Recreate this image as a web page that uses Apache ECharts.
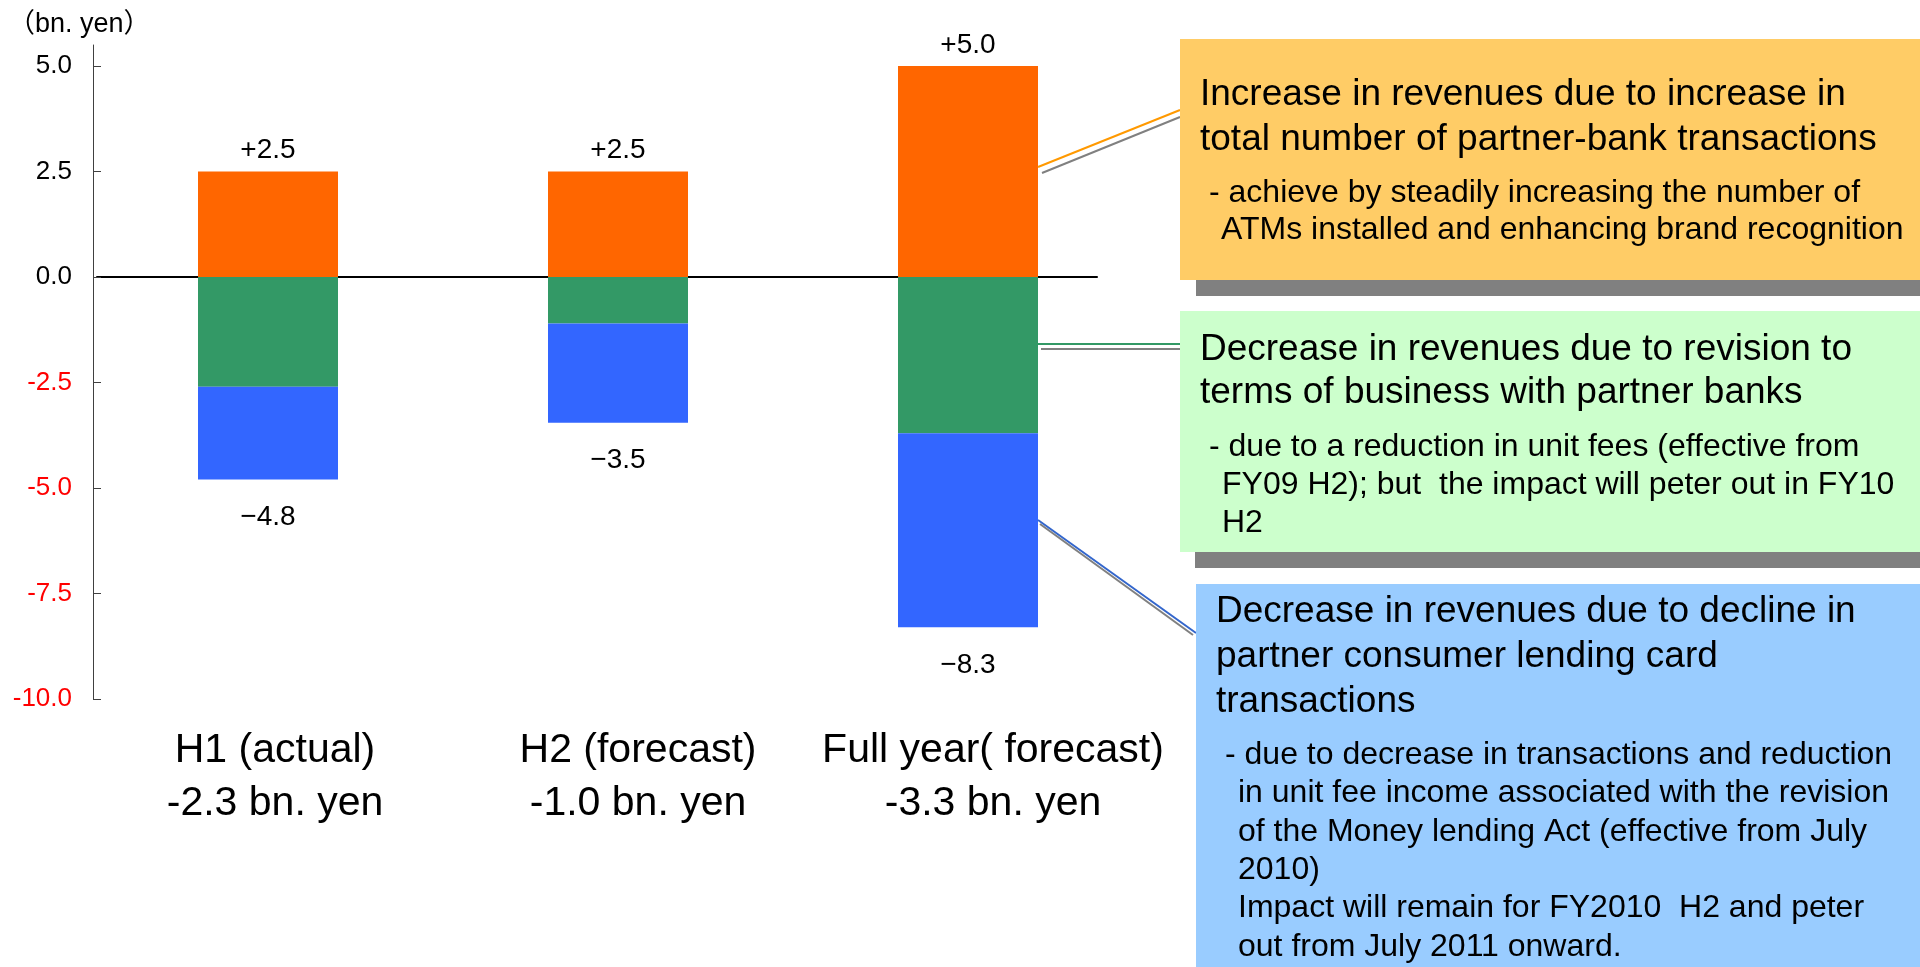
<!DOCTYPE html>
<html>
<head>
<meta charset="utf-8">
<script src="https://cdn.jsdelivr.net/npm/echarts@6/dist/echarts.min.js"></script>
<style>
  html, body { margin: 0; padding: 0; background: #fff; }
  #charts { width: 1920px; height: 967px; }
</style>
</head>
<body>
<div id="charts"></div>
<script>
// data
var categories = ['H1 (actual)', 'H2 (forecast)', 'Full year( forecast)'];
var netChange = ['-2.3', '-1.0', '-3.3'];
var partnerBank = [2.5, 2.5, 5.0];       // orange, increase
var termsRevision = [-2.6, -1.1, -3.7];  // green
var consumerLending = [-2.2, -2.35, -4.6]; // blue
var negTotals = [-4.8, -3.5, -8.3];
var yTicks = [-10, -7.5, -5, -2.5, 0, 2.5, 5];

// annotation text (boxes on the right)
var box1Head = ['Increase in revenues due to increase in', 'total number of partner-bank transactions'];
var box1Sub = ['- achieve by steadily increasing the number of', 'ATMs installed and enhancing brand recognition'];
var box2Head = ['Decrease in revenues due to revision to', 'terms of business with partner banks'];
var box2Sub = ['- due to a reduction in unit fees (effective from', 'FY09 H2); but  the impact will peter out in FY10', 'H2'];
var box3Head = ['Decrease in revenues due to decline in', 'partner consumer lending card', 'transactions'];
var box3Sub = ['- due to decrease in transactions and reduction', 'in unit fee income associated with the revision',
  'of the Money lending Act (effective from July', '2010)', 'Impact will remain for FY2010  H2 and peter', 'out from July 2011 onward.'];

var FONT = 'Arial, "Liberation Sans", "Noto Sans CJK JP", sans-serif';

function textLines(lines, x0, x1, y0, lh, size) {
  // first line at x0, following lines at x1
  return lines.map(function (t, i) {
    return {
      type: 'text', z: 20,
      style: {
        text: t, x: i === 0 ? x0 : x1, y: y0 + i * lh,
        fill: '#000', fontSize: size, fontFamily: FONT, verticalAlign: 'middle'
      }
    };
  });
}

function line(x1, y1, x2, y2, color) {
  return { type: 'line', z: 5, shape: { x1: x1, y1: y1, x2: x2, y2: y2 }, style: { stroke: color, lineWidth: 2 } };
}

var graphics = [
  // connectors
  line(1042, 173, 1180, 117, '#808080'),
  line(1038, 167, 1180, 110, '#FF9900'),
  line(1041, 349, 1180, 349, '#808080'),
  line(1038, 344, 1180, 344, '#339966'),
  line(1040, 524, 1193, 635, '#808080'),
  line(1038, 520, 1196, 633, '#3366CC'),
  // box shadows
  { type: 'rect', z: 8, shape: { x: 1196, y: 55, width: 730, height: 241 }, style: { fill: '#808080' } },
  { type: 'rect', z: 8, shape: { x: 1195, y: 327, width: 730, height: 241 }, style: { fill: '#808080' } },
  // boxes
  { type: 'rect', z: 10, shape: { x: 1180, y: 39, width: 745, height: 241 }, style: { fill: '#FFCC66' } },
  { type: 'rect', z: 10, shape: { x: 1180, y: 311, width: 745, height: 241 }, style: { fill: '#CCFFCC' } },
  { type: 'rect', z: 10, shape: { x: 1196, y: 584, width: 730, height: 390 }, style: { fill: '#99CCFF' } }
]
  .concat(textLines(box1Head, 1200, 1200, 95, 45, 37))
  .concat(textLines(box1Sub, 1209, 1221, 193, 37, 32))
  .concat(textLines(box2Head, 1200, 1200, 350, 43, 37))
  .concat(textLines(box2Sub, 1209, 1222, 447, 38, 32))
  .concat(textLines(box3Head, 1216, 1216, 612, 45, 37))
  .concat(textLines(box3Sub, 1225, 1238, 755, 38.4, 32));

var catStyle = { fontSize: 41, lineHeight: 53, color: '#000', fontFamily: FONT };

var myChart = echarts.init(document.getElementById('charts'));

myChart.setOption({
  animation: false,
  backgroundColor: '#fff',
  title: {
    text: '（bn. yen）',
    left: 3, top: 6,
    textStyle: { fontSize: 27, fontWeight: 'normal', color: '#000', fontFamily: FONT }
  },
  grid: [
    { left: 93, top: 45, width: 1050, height: 654 },
    { left: 97, top: 45, width: 1000, height: 654 }
  ],
  xAxis: [
    {
      type: 'category',
      gridIndex: 0,
      data: categories,
      axisLine: { show: false, onZero: false },
      axisTick: { show: false },
      axisLabel: {
        interval: 0,
        hideOverlap: false,
        margin: 25,
        fontSize: 41,
        lineHeight: 53,
        color: '#000',
        fontFamily: FONT,
        formatter: function (v, i) {
          return '{c' + i + '|' + v + '}\n{c' + i + '|' + netChange[i] + ' bn. yen}';
        },
        rich: {
          c0: Object.assign({ padding: [0, 0, 0, 14] }, catStyle),
          c1: Object.assign({ padding: [0, 0, 0, 40] }, catStyle),
          c2: Object.assign({ padding: [0, 0, 0, 50] }, catStyle)
        }
      }
    },
    {
      // zero line
      type: 'value', gridIndex: 1, min: 0, max: 1,
      axisLine: { show: true, onZero: true, lineStyle: { color: '#000', width: 2 } },
      axisTick: { show: false }, axisLabel: { show: false }, splitLine: { show: false }
    }
  ],
  yAxis: [
    {
      type: 'value',
      gridIndex: 0,
      min: -10, max: 5.5, interval: 2.5,
      splitLine: { show: false },
      axisLine: { show: true, lineStyle: { color: '#404040', width: 1 } },
      axisTick: { show: true, inside: true, length: 8, customValues: yTicks, lineStyle: { color: '#404040' } },
      axisLabel: {
        customValues: yTicks,
        margin: 21,
        fontSize: 26,
        fontFamily: FONT,
        formatter: function (v) { return v.toFixed(1); },
        color: function (v) { return Number(v) < 0 ? '#FF0000' : '#000'; }
      }
    },
    { type: 'value', gridIndex: 1, min: -10, max: 5.5, show: false }
  ],
  series: [
    {
      name: 'partner-bank transactions',
      type: 'bar', stack: 'total', barWidth: 140,
      data: partnerBank,
      itemStyle: { color: '#FF6600' },
      label: {
        show: true, position: 'top', distance: 7,
        fontSize: 28, color: '#000', fontFamily: FONT,
        formatter: function (p) { return '+' + p.value.toFixed(1); }
      }
    },
    {
      name: 'terms of business',
      type: 'bar', stack: 'total', barWidth: 140,
      data: termsRevision,
      itemStyle: { color: '#339966' }
    },
    {
      name: 'consumer lending',
      type: 'bar', stack: 'total', barWidth: 140,
      data: consumerLending,
      itemStyle: { color: '#3366FF' },
      label: {
        show: true, position: 'bottom', distance: 24,
        fontSize: 28, color: '#000', fontFamily: FONT,
        formatter: function (p) { return '\u2212' + Math.abs(negTotals[p.dataIndex]).toFixed(1); }
      }
    }
  ],
  graphic: graphics
});
</script>
</body>
</html>
